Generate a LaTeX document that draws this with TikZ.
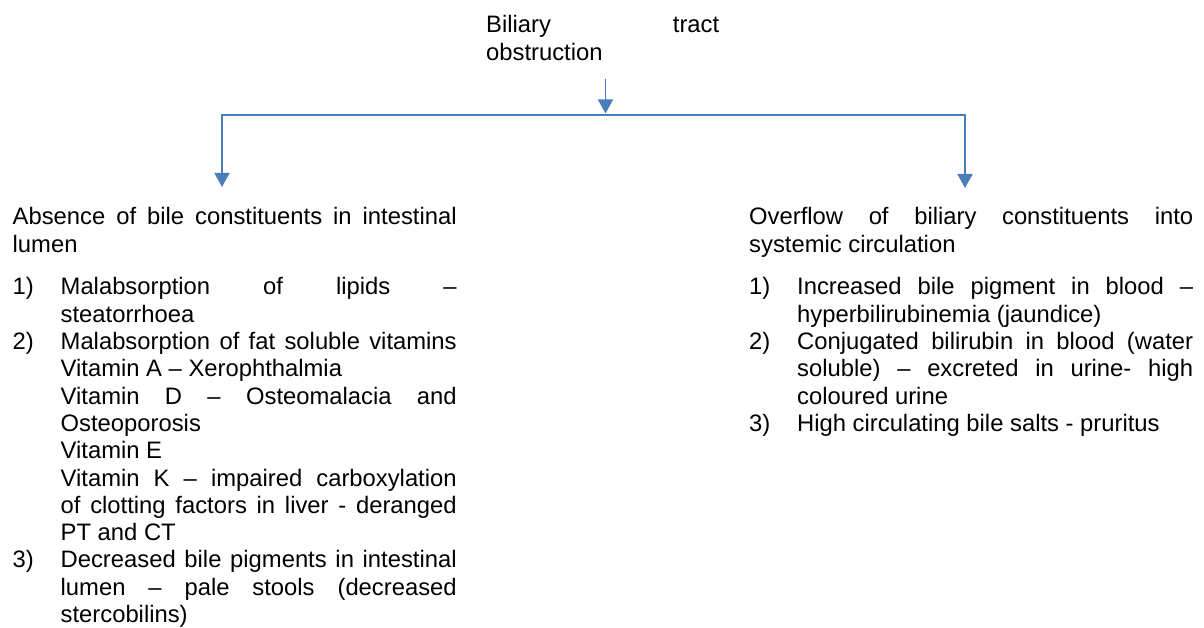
\documentclass[tikz,border=0pt]{standalone}
\usepackage{fontspec}
\setmainfont{Liberation Sans}
\usetikzlibrary{arrows.meta,positioning}
\definecolor{flowblue}{HTML}{4A7EBB}
\hbadness=10000
\tolerance=10000
% numbered item with a hanging label, as in the source list
\newcommand{\numitem}[1]{\par\leftskip=48pt\noindent\llap{\makebox[48pt][l]{#1}}\ignorespaces}

\begin{document}
\begin{tikzpicture}[x=1pt, y=-1pt, font=\fontsize{23.8}{27.3}\selectfont,
  txt/.style={anchor=base west, inner sep=0pt, text width=#1, align=justify},
  flow/.style={draw=flowblue, line width=1.8pt, -{Triangle[width=15pt,length=14pt]}}]
\useasboundingbox (0,0) rectangle (1204,628);
% one px of the reference is one unit here
\node[txt=233pt] (top) at (486,33) {Biliary tract\linebreak obstruction};
\node[txt=444pt] (absence) at (12.5,225) {Absence of bile constituents in intestinal\linebreak lumen\par\vspace{15.4pt}
  \numitem{1)}Malabsorption of lipids --\linebreak steatorrhoea
  \numitem{2)}Malabsorption of fat soluble vitamins\linebreak
    Vitamin A -- Xerophthalmia\newline
    Vitamin D -- Osteomalacia and\linebreak Osteoporosis\newline
    Vitamin E\newline
    Vitamin K -- impaired carboxylation\linebreak of clotting factors in liver - deranged\linebreak PT and CT
  \numitem{3)}Decreased bile pigments in intestinal\linebreak lumen -- pale stools (decreased\linebreak stercobilins)\par};
\node[txt=444pt] (overflow) at (749,225) {Overflow of biliary constituents into\linebreak systemic circulation\par\vspace{15.4pt}
  \numitem{1)}Increased bile pigment in blood --\linebreak hyperbilirubinemia (jaundice)
  \numitem{2)}Conjugated bilirubin in blood (water\linebreak soluble) -- excreted in urine- high\linebreak coloured urine
  \numitem{3)}High circulating bile salts - pruritus\par};

\coordinate (split) at (605.5,115);
\coordinate (ltip) at (222,187);
\coordinate (rtip) at (965,188);
\draw[flow, shorten <=18pt, shorten >=1.5pt] (top.south -| split) -- (split);
\foreach \s in {l,r}{%
  \draw[flow] (split) -| (\s tip);}
\end{tikzpicture}
\end{document}
